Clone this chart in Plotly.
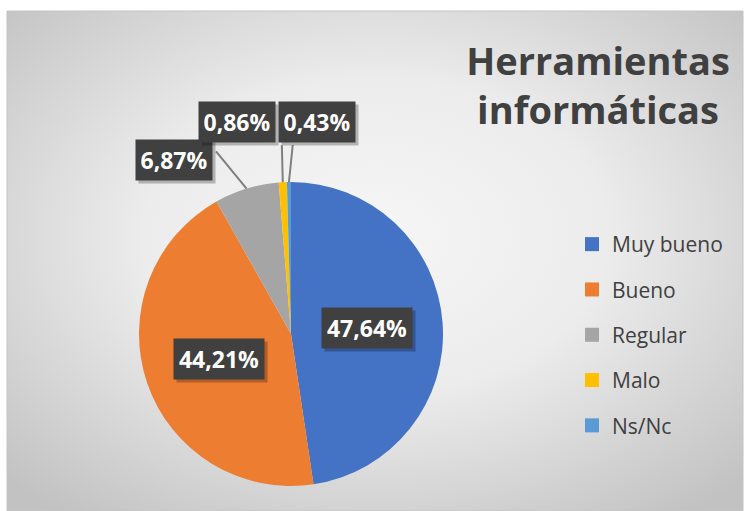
import base64
import math

import plotly.graph_objects as go

# data
categories = ["Muy bueno", "Bueno", "Regular", "Malo", "Ns/Nc"]
percent = [47.64, 44.21, 6.87, 0.86, 0.43]
label_text = ["47,64%", "44,21%", "6,87%", "0,86%", "0,43%"]
colors = ["#4472C4", "#ED7D31", "#A5A5A5", "#FFC000", "#5B9BD5"]

W, H = 745, 511
# pie geometry in pixels
CX, CY, R = 291, 334, 152

# label placement: inside (radius fraction) or outside (pixel offsets from slice edge)
inside = [True, True, False, False, False]
label_off = [None, None, (-73, -29), (-46, -60), (28, -60)]
line_off = [None, None, (-32, -39), (-1, -39), (4, -39)]


def px(x):
    return x / W


def py(y):
    return 1 - y / H


fig = go.Figure()

fig.add_trace(
    go.Pie(
        labels=categories,
        values=percent,
        marker=dict(colors=colors, line=dict(width=0)),
        sort=False,
        direction="clockwise",
        rotation=0,
        textinfo="none",
        hoverinfo="label+percent",
        showlegend=False,
        domain=dict(x=[px(CX - R), px(CX + R)], y=[py(CY + R), py(CY - R)]),
    )
)

# legend entries
for name, col in zip(categories, colors):
    fig.add_trace(
        go.Scatter(
            x=[None], y=[None], mode="markers", name=name, legendgroup=name,
            marker=dict(symbol="square", size=14, color=col, line=dict(width=0)),
        )
    )

# data labels (dark boxes with a soft drop shadow)
total = sum(percent)
cum = 0
annotations = []
for i, v in enumerate(percent):
    mid = (cum + v / 2) / total * 2 * math.pi
    cum += v
    box = dict(
        font=dict(family="Open Sans", size=23, color="white"),
        bgcolor="#404040", width=80 if inside[i] else 66, height=30, borderpad=5,
        xref="paper", yref="paper", xanchor="center", yanchor="middle",
    )
    shadow = {**box, "bgcolor": "rgba(0,0,0,0.25)"}
    txt = "<b>%s</b>" % label_text[i]
    if inside[i]:
        r = 0.5 * R
        x0, y0 = CX + r * math.sin(mid), CY - r * math.cos(mid)
        annotations.append(dict(text=" ", x=px(x0 + 3), y=py(y0 + 3), showarrow=False, **shadow))
        annotations.append(dict(text=txt, x=px(x0), y=py(y0), showarrow=False, **box))
    else:
        ex, ey = CX + R * math.sin(mid), CY - R * math.cos(mid)
        lx, ly = line_off[i]
        annotations.append(dict(text=" ", x=px(ex), y=py(ey), xref="paper", yref="paper",
                                showarrow=True, arrowhead=0, arrowwidth=2, arrowcolor="#7f7f7f",
                                ax=lx, ay=ly, font=dict(size=1)))
        bx, by = label_off[i]
        annotations.append(dict(text=" ", x=px(ex + 3), y=py(ey + 3), showarrow=True,
                                arrowcolor="rgba(0,0,0,0)", ax=bx, ay=by, **shadow))
        annotations.append(dict(text=txt, x=px(ex), y=py(ey), showarrow=True,
                                arrowcolor="rgba(0,0,0,0)", ax=bx, ay=by, **box))

# chart area background (radial gradient like Excel)
svg = (
    '<svg xmlns="http://www.w3.org/2000/svg" width="736" height="500" preserveAspectRatio="none">'
    '<defs><radialGradient id="g" cx="50%" cy="45%" r="70%">'
    '<stop offset="0" stop-color="#f6f6f6"/><stop offset="0.45" stop-color="#ececec"/>'
    '<stop offset="1" stop-color="#c2c2c2"/></radialGradient></defs>'
    '<rect width="736" height="500" fill="url(#g)"/></svg>'
)
bg_src = "data:image/svg+xml;base64," + base64.b64encode(svg.encode()).decode()

fig.update_layout(
    width=W, height=H,
    margin=dict(l=0, r=0, t=0, b=0),
    paper_bgcolor="white",
    plot_bgcolor="rgba(0,0,0,0)",
    xaxis=dict(visible=False),
    yaxis=dict(visible=False),
    title=dict(
        text="<b>Herramientas<br>informáticas</b>",
        x=px(598), xanchor="center", y=py(75), yanchor="top",
        font=dict(family="Open Sans", size=38, color="#404040"),
    ),
    legend=dict(
        x=px(572), xanchor="left", y=py(224), yanchor="top",
        font=dict(family="Open Sans", size=21, color="#404040"),
        bgcolor="rgba(0,0,0,0)", tracegroupgap=15, itemclick=False,
    ),
    annotations=annotations,
    images=[dict(source=bg_src, xref="paper", yref="paper", x=px(7), y=py(11),
                 sizex=px(743) - px(7), sizey=py(11) - py(511), sizing="stretch",
                 xanchor="left", yanchor="top", layer="below")],
    shapes=[dict(type="rect", xref="paper", yref="paper", x0=px(7), x1=px(743), y0=py(511), y1=py(11),
                 line=dict(color="#c4c4c4", width=1), layer="below")],
)

fig.write_html("out.html", config={"displayModeBar": False},
               post_script="document.body.style.margin='0';")
